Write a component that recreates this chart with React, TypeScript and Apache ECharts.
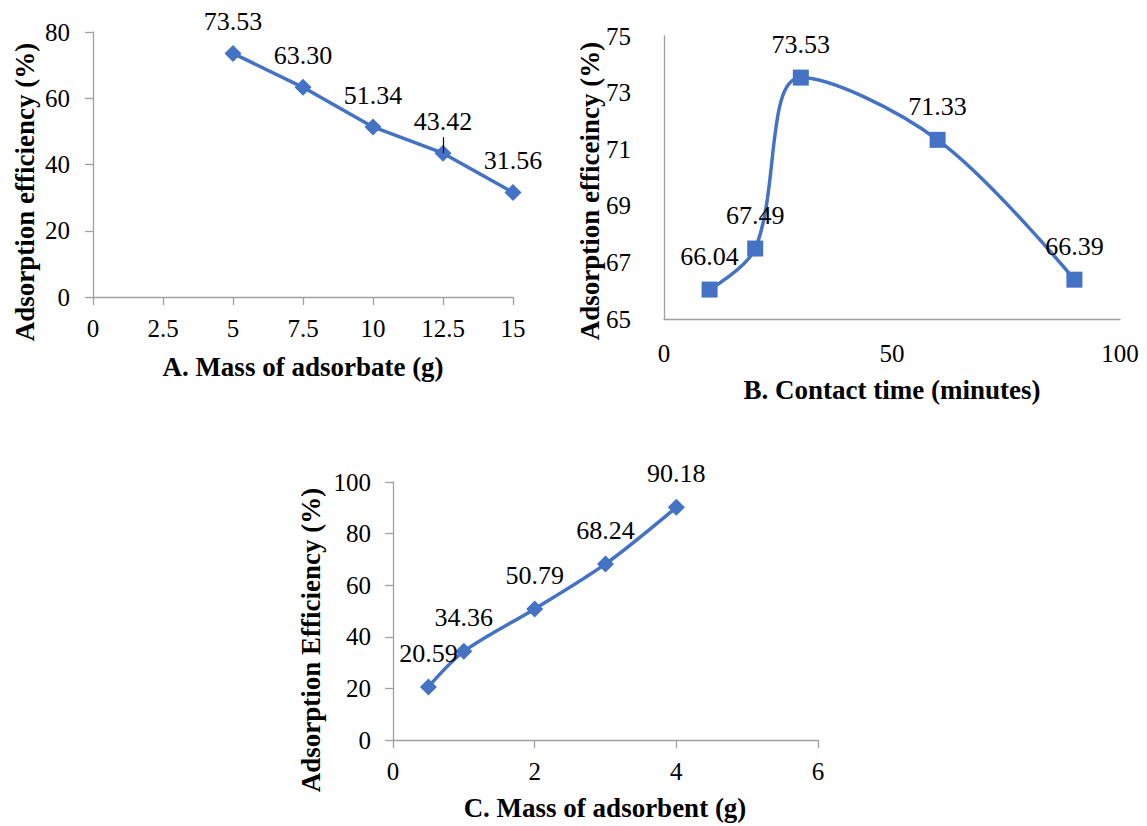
import React, { useEffect, useRef } from "react";
import * as echarts from "echarts";

const massAdsorbate = [5, 7.5, 10, 12.5, 15];
const effA = [73.53, 63.3, 51.34, 43.42, 31.56];
const contactTime = [10, 20, 30, 60, 90];
const effB = [66.04, 67.49, 73.53, 71.33, 66.39];
const massAdsorbent = [0.5, 1, 2, 3, 4];
const effC = [20.59, 34.36, 50.79, 68.24, 90.18];
const leaderIndexA = 3;
const leaderLengthA = 4.8;

const titleA_x = "A. Mass of adsorbate (g)";
const titleA_y = "Adsorption efficiency (%)";
const titleB_x = "B. Contact time (minutes)";
const titleB_y = "Adsorption efficeincy (%)";
const titleC_x = "C. Mass of adsorbent (g)";
const titleC_y = "Adsorption Efficiency (%)";

const FONT = "Liberation Serif";
const BLUE = "#4472C4";
const AXIS = "#a0a0a0";

function zip(xs: number[], ys: number[]) {
  return xs.map((x, i) => [x, ys[i]]);
}

export default function App() {
  const ref = useRef<HTMLDivElement>(null);
  useEffect(() => {
    if (!ref.current) return;
    const chart = echarts.init(ref.current, null, { renderer: "svg" });
    const axisLabel = (margin: number, extra: any = {}) => ({
      color: "#000",
      fontFamily: FONT,
      fontSize: 25,
      margin,
      ...extra,
    });
    const axisLine = { show: true, lineStyle: { color: AXIS, width: 1.3 } };
    const tick = { show: true, length: 8, lineStyle: { color: AXIS, width: 1.3 } };
    const noTick = { show: false };
    const label = (dist: number) => ({
      show: true,
      position: "top",
      distance: dist,
      color: "#000",
      fontFamily: FONT,
      fontSize: 26,
      formatter: (p: any) => Number(p.value[1]).toFixed(2),
    });
    const titleText = (text: string, x: number, y: number, rotate: boolean) => ({
      type: "text",
      x,
      y,
      rotation: rotate ? Math.PI / 2 : 0,
      style: {
        text,
        fill: "#000",
        fontFamily: FONT,
        fontWeight: "bold",
        fontSize: 27,
        align: "center",
        verticalAlign: "middle",
      },
    });
    const lx = massAdsorbate[leaderIndexA];
    const ly = effA[leaderIndexA];
    chart.setOption({
      animation: false,
      backgroundColor: "#fff",
      textStyle: { fontFamily: FONT },
      grid: [
        { left: 93, top: 32, width: 420, height: 265 },
        { left: 664, top: 36, width: 456, height: 283 },
        { left: 393, top: 482, width: 425, height: 258 },
      ],
      xAxis: [
        {
          gridIndex: 0, type: "value", min: 0, max: 15, interval: 2.5,
          axisLine, axisTick: tick, splitLine: { show: false },
          axisLabel: axisLabel(19),
        },
        {
          gridIndex: 1, type: "value", min: 0, max: 100, interval: 50,
          axisLine, axisTick: noTick, splitLine: { show: false },
          axisLabel: axisLabel(22),
        },
        {
          gridIndex: 2, type: "value", min: 0, max: 6, interval: 2,
          axisLine, axisTick: tick, splitLine: { show: false },
          axisLabel: axisLabel(19),
        },
      ],
      yAxis: [
        {
          gridIndex: 0, type: "value", min: 0, max: 80, interval: 20,
          axisLine, axisTick: tick, splitLine: { show: false },
          axisLabel: axisLabel(23),
        },
        {
          gridIndex: 1, type: "value", min: 65, max: 75, interval: 1,
          axisLine, axisTick: noTick, splitLine: { show: false },
          axisLabel: axisLabel(33, {
            formatter: (v: number) => (Math.round(v) % 2 === 1 ? String(v) : ""),
          }),
        },
        {
          gridIndex: 2, type: "value", min: 0, max: 100, interval: 20,
          axisLine, axisTick: tick, splitLine: { show: false },
          axisLabel: axisLabel(22),
        },
      ],
      series: [
        {
          type: "line", xAxisIndex: 0, yAxisIndex: 0,
          data: zip(massAdsorbate, effA),
          smooth: false,
          symbol: "diamond", symbolSize: 17,
          lineStyle: { color: BLUE, width: 3.5 },
          itemStyle: { color: BLUE },
          label: label(10),
          markLine: {
            silent: true,
            symbol: "none",
            label: { show: false },
            lineStyle: { color: "#000", width: 1.2, type: "solid" },
            data: [[{ coord: [lx, ly] }, { coord: [lx, ly + leaderLengthA] }]],
          },
        },
        {
          type: "line", xAxisIndex: 1, yAxisIndex: 1,
          data: zip(contactTime, effB),
          smooth: 0.35,
          symbol: "rect", symbolSize: 16,
          lineStyle: { color: BLUE, width: 3.5 },
          itemStyle: { color: BLUE },
          label: label(12),
        },
        {
          type: "line", xAxisIndex: 2, yAxisIndex: 2,
          data: zip(massAdsorbent, effC),
          smooth: 0.3,
          symbol: "diamond", symbolSize: 17,
          lineStyle: { color: BLUE, width: 3.5 },
          itemStyle: { color: BLUE },
          label: label(12),
        },
      ],
      graphic: [
        titleText(titleA_y, 25, 192, true),
        titleText(titleA_x, 303, 367, false),
        titleText(titleB_y, 590, 191, true),
        titleText(titleB_x, 892, 390, false),
        titleText(titleC_y, 311, 640, true),
        titleText(titleC_x, 605, 808, false),
      ],
    });
    return () => chart.dispose();
  }, []);
  return (
    <div
      ref={ref}
      style={{ position: "fixed", left: 0, top: 0, width: 1147, height: 826 }}
    />
  );
}
